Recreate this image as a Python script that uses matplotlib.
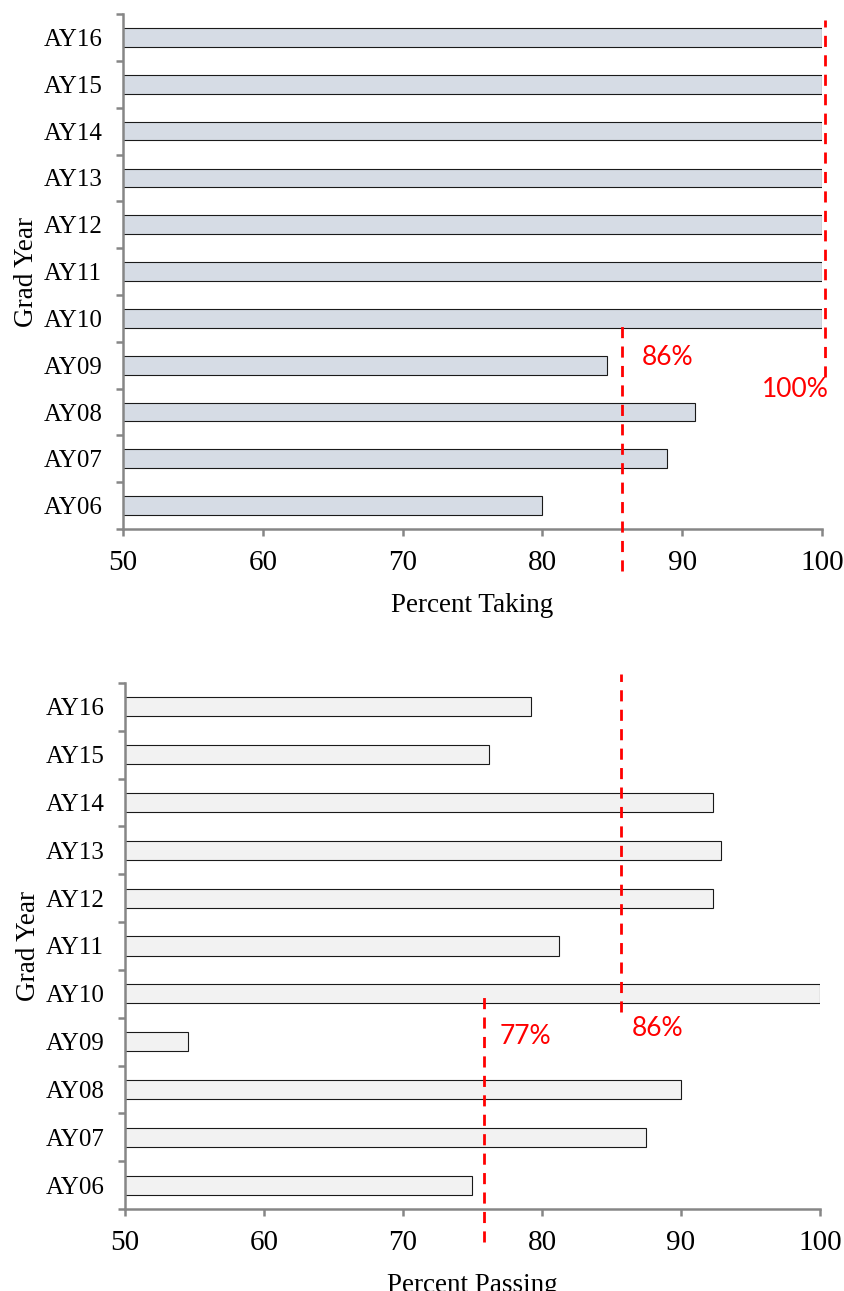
import matplotlib
matplotlib.use("Agg")
import matplotlib.pyplot as plt
import numpy as np

# data
years = ["AY06", "AY07", "AY08", "AY09", "AY10", "AY11", "AY12", "AY13", "AY14", "AY15", "AY16"]
pct_taking = [80.0, 88.9, 90.9, 84.6, 100, 100, 100, 100, 100, 100, 100]
pct_passing = [75.0, 87.5, 90.0, 54.5, 100, 81.2, 92.3, 92.9, 92.3, 76.2, 79.2]

# reference lines (value, label)
taking_lines = [(85.7, "86%"), (100.2, "100%")]
passing_lines = [(75.8, "77%"), (85.7, "86%")]

SPINE = "#868686"
RED = "#ff0000"
SERIF = "Liberation Serif"
SANS = "Lato"

fig = plt.figure(figsize=(8.45, 12.91), dpi=100)
ax1 = fig.add_axes([0.1456, 0.5902, 0.8272, 0.3989])
ax2 = fig.add_axes([0.1479, 0.0635, 0.8225, 0.4075])


def style(ax, xlabel):
    y = np.arange(len(years))
    ax.set_xlim(50, 100)
    ax.set_ylim(-0.5, len(years) - 0.5)
    ax.set_yticks(y)
    ax.set_yticklabels(years, family=SERIF, fontsize=18)
    ax.set_yticks(np.arange(len(years) + 1) - 0.5, minor=True)
    ax.tick_params(axis="y", which="major", length=0, pad=15)
    ax.tick_params(axis="y", which="minor", length=5, width=1.8, color=SPINE, direction="out")
    ax.set_xticks([50, 60, 70, 80, 90, 100])
    ax.tick_params(axis="x", length=5, width=1.8, color=SPINE, direction="out", pad=10)
    for lab in ax.get_xticklabels():
        lab.set_family(SERIF)
        lab.set_fontsize(21)
    for s in ["top", "right"]:
        ax.spines[s].set_visible(False)
    for s in ["left", "bottom"]:
        ax.spines[s].set_color(SPINE)
        ax.spines[s].set_linewidth(1.8)
    ax.set_xlabel(xlabel, family=SERIF, fontsize=19.5, labelpad=12)
    ax.set_ylabel("Grad Year", family=SERIF, fontsize=19.5, labelpad=3)


y = np.arange(len(years))
ax1.barh(y, pct_taking, height=0.4, color="#d6dce5", edgecolor="#1a1a1a", linewidth=0.8, zorder=2)
ax2.barh(y, pct_passing, height=0.4, color="#f2f2f2", edgecolor="#1a1a1a", linewidth=0.8, zorder=2)
style(ax1, "Percent Taking")
style(ax2, "Percent Passing")

# dashed reference lines, drawn past the axes like the original
dash = dict(color=RED, lw=2, ls=(0, (4, 3)), clip_on=False, zorder=3)
ax1.plot([taking_lines[0][0]] * 2, [-1.39, 3.95], **dash)
ax1.plot([taking_lines[1][0]] * 2, [2.75, 10.38], **dash)
ax1.text(88.95, 3.16, taking_lines[0][1], color=RED, family=SANS, fontsize=19, ha="center", va="center")
ax1.text(98.07, 2.49, taking_lines[1][1], color=RED, family=SANS, fontsize=19, ha="center", va="center")

ax2.plot([passing_lines[0][0]] * 2, [-1.19, 4.07], **dash)
ax2.plot([passing_lines[1][0]] * 2, [3.61, 10.69], **dash)
ax2.text(78.8, 3.11, passing_lines[0][1], color=RED, family=SANS, fontsize=19, ha="center", va="center")
ax2.text(88.33, 3.28, passing_lines[1][1], color=RED, family=SANS, fontsize=19, ha="center", va="center")

fig.savefig("out.png", dpi=100)
